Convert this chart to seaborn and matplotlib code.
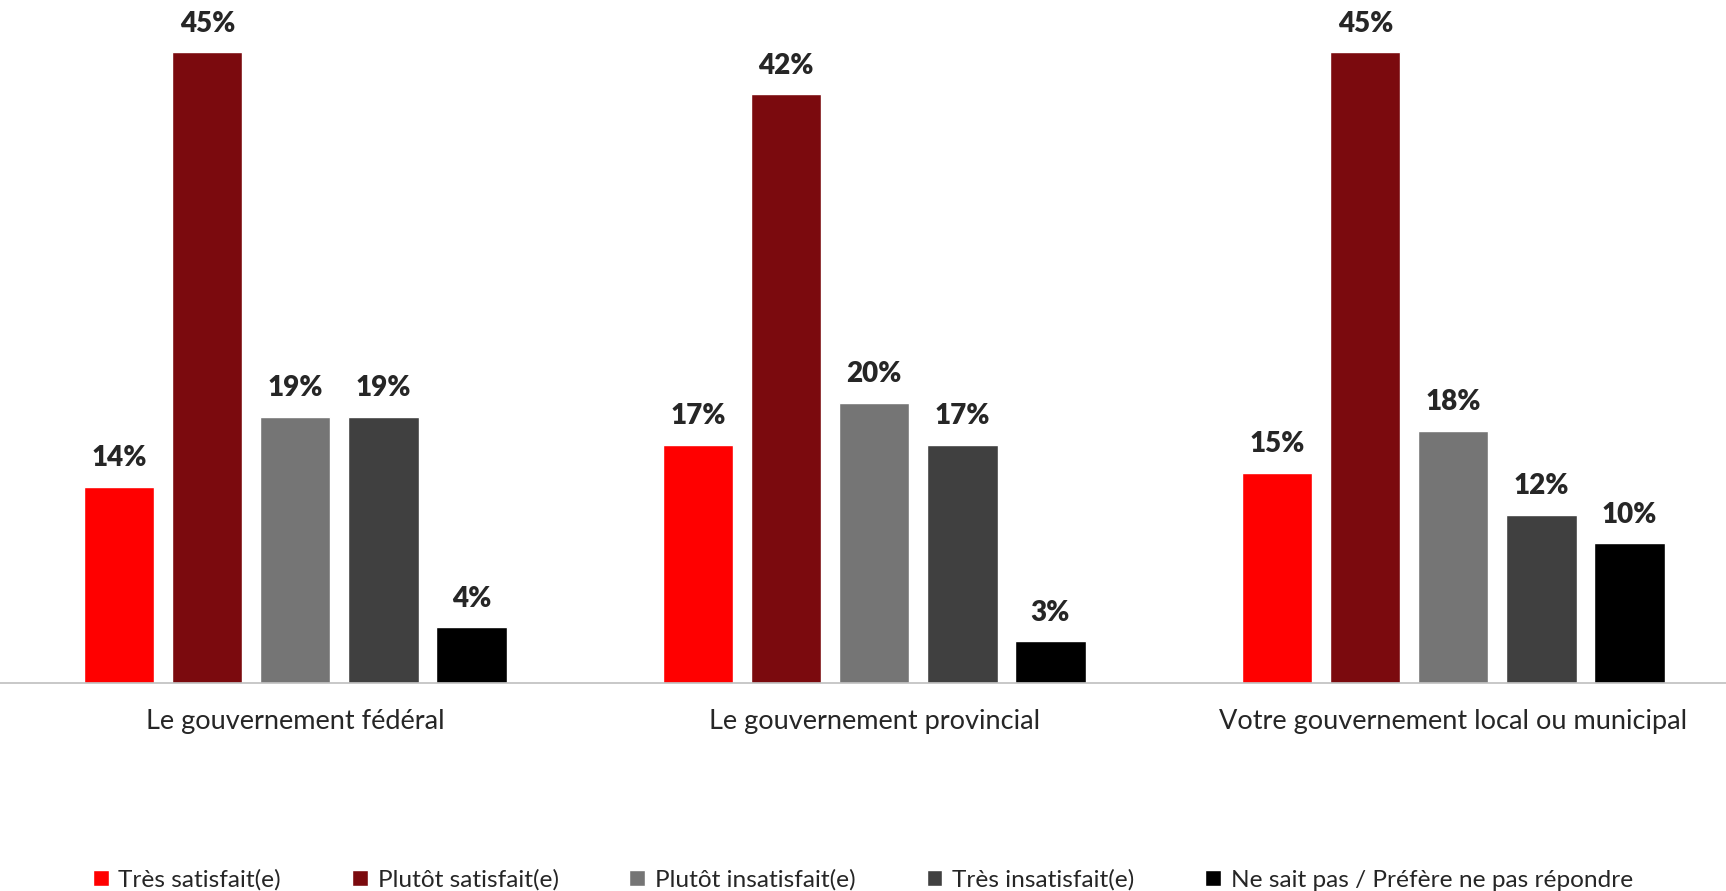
import pandas as pd
import matplotlib.pyplot as plt
import seaborn as sns

# values (percent)
groups = ['Le gouvernement fédéral', 'Le gouvernement provincial',
          'Votre gouvernement local ou municipal']
answers = ['Très satisfait(e)', 'Plutôt satisfait(e)', 'Plutôt insatisfait(e)',
           'Très insatisfait(e)', 'Ne sait pas / Préfère ne pas répondre']
federal = [14, 45, 19, 19, 4]
provincial = [17, 42, 20, 17, 3]
local = [15, 45, 18, 12, 10]
colors = ['#FF0000', '#7B0A0E', '#757575', '#404040', '#000000']

rows = []
for g, vals in zip(groups, [federal, provincial, local]):
    for a, v in zip(answers, vals):
        rows.append({'groupe': g, 'reponse': a, 'pct': v})
df = pd.DataFrame(rows)

sns.set_style('white')
plt.rcParams['font.family'] = ['Lato', 'DejaVu Sans']

fig = plt.figure(figsize=(17.26, 8.91), dpi=100)
ax = fig.add_axes([0, 1 - 683 / 891, 1, 683 / 891])

sns.barplot(data=df, x='groupe', y='pct', hue='reponse', order=groups,
            hue_order=answers, palette=colors, width=0.76, gap=0.2,
            saturation=1, ax=ax)

# percentage labels above bars
for cont in ax.containers:
    ax.bar_label(cont, fmt='%d%%', padding=11, fontsize=20, fontweight='heavy')

ax.set_ylim(0, 683 / 14.02)
ax.set_xlim(-0.51, 2.471)
ax.set_xlabel('')
ax.set_ylabel('')
ax.set_yticks([])
ax.tick_params(axis='x', length=0, pad=19, labelsize=19.5)
for s in ['top', 'left', 'right']:
    ax.spines[s].set_visible(False)
ax.spines['bottom'].set_color('#BFBFBF')
ax.spines['bottom'].set_linewidth(1.2)

handles, labels = ax.get_legend_handles_labels()
ax.legend(handles, labels, loc='center', bbox_to_anchor=(0.5, 11 / 891),
          bbox_transform=fig.transFigure, ncol=5, frameon=False, fontsize=17.6,
          handlelength=0.65, handleheight=0.65, handletextpad=0.4,
          columnspacing=2.9)

fig.savefig('out.png', dpi=100)
